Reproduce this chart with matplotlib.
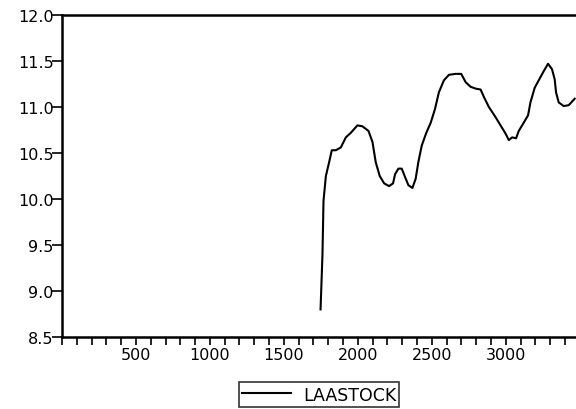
import numpy as np
import matplotlib.pyplot as plt
from matplotlib.ticker import MultipleLocator

plt.rcParams['font.family'] = ['DejaVu Sans']

# values
obs = [1748, 1761, 1768, 1784, 1806, 1824, 1851, 1885, 1919, 1953, 1997, 2031,
       2072, 2099, 2121, 2148, 2178, 2211, 2238, 2252, 2274, 2297, 2319, 2342,
       2369, 2391, 2409, 2432, 2463, 2493, 2522, 2548, 2582, 2616, 2661, 2699,
       2729, 2762, 2796, 2830, 2852, 2886, 2931, 2965, 2999, 3021, 3043, 3070,
       3088, 3122, 3151, 3167, 3196, 3223, 3257, 3286, 3313, 3331, 3340, 3358,
       3392, 3426, 3466]
laastock = [8.80, 9.40, 9.98, 10.25, 10.40, 10.53, 10.53, 10.56, 10.67, 10.72, 10.80, 10.79,
            10.74, 10.62, 10.40, 10.25, 10.17, 10.14, 10.17, 10.27, 10.33, 10.33, 10.24, 10.15,
            10.12, 10.22, 10.40, 10.58, 10.72, 10.83, 10.98, 11.16, 11.29, 11.35, 11.36, 11.36,
            11.27, 11.22, 11.20, 11.19, 11.11, 11.00, 10.89, 10.80, 10.71, 10.64, 10.67, 10.66,
            10.74, 10.83, 10.91, 11.05, 11.21, 11.29, 11.39, 11.47, 11.41, 11.30, 11.16, 11.05,
            11.01, 11.02, 11.09]
yticks = [8.5, 9.0, 9.5, 10.0, 10.5, 11.0, 11.5, 12.0]
xticks = [500, 1000, 1500, 2000, 2500, 3000]

fig = plt.figure(figsize=(5.76, 4.10), dpi=100)
ax = fig.add_axes([62 / 576, 1 - 338 / 410, 1 - 62 / 576, (338 - 16) / 410])

ax.plot(obs, laastock, color='black', linewidth=1.5, label='LAASTOCK')

ax.set_xlim(0, 3475)
ax.set_ylim(8.5, 12.0)
ax.set_yticks(yticks)
ax.set_yticklabels([f'{v:.1f}' for v in yticks])
ax.set_xticks(xticks)
ax.set_xticklabels([str(v) for v in xticks])
ax.xaxis.set_minor_locator(MultipleLocator(100))

for side in ['left', 'top', 'bottom']:
    ax.spines[side].set_linewidth(1.8)
ax.spines['right'].set_visible(False)

ax.tick_params(axis='y', direction='out', length=7, width=1.2, pad=-1, labelsize=11.5)
ax.tick_params(axis='x', which='both', direction='out', length=5.5, width=1.2, pad=2, labelsize=11.5)

leg = fig.legend(loc='lower center', bbox_to_anchor=(319 / 576, 2 / 410), frameon=True,
                 fancybox=False, edgecolor='black', fontsize=12.5, handlelength=2.8,
                 handletextpad=0.7, borderpad=0.2, borderaxespad=0)
leg.get_frame().set_linewidth(1.2)

fig.savefig('out.png', dpi=100)
